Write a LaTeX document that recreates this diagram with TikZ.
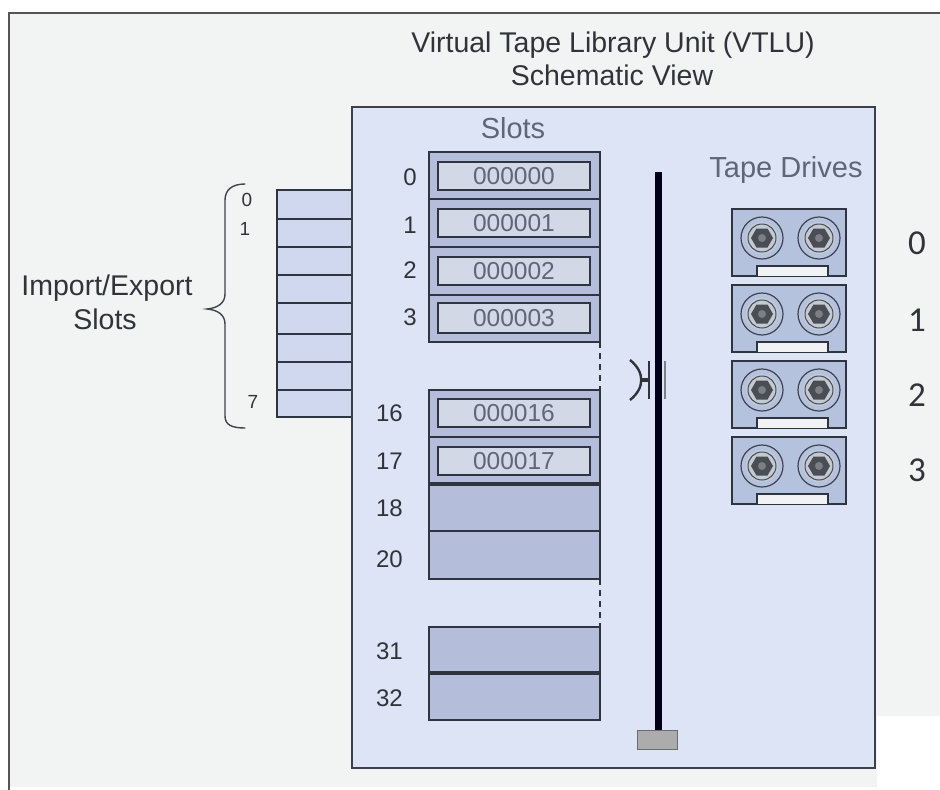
\documentclass[tikz,border=0pt]{standalone}
\usepackage{fontspec}
\setmainfont{Liberation Sans}
\newfontfamily\numfont{Carlito}
\definecolor{pagebg}{HTML}{F2F4F3}
\definecolor{panel}{HTML}{DDE4F6}
\definecolor{slotfill}{HTML}{B4BEDA}
\definecolor{tapefill}{HTML}{D3D8E6}
\definecolor{iofill}{HTML}{CFD8EE}
\definecolor{drivefill}{HTML}{B5C2DE}
\definecolor{edge}{HTML}{2E3440}
\definecolor{framec}{HTML}{555555}
\definecolor{softtext}{HTML}{5F6678}
\definecolor{darktext}{HTML}{30343A}
\definecolor{hubfill}{HTML}{C3CAD4}
\definecolor{hexfill}{HTML}{4A4E54}
\definecolor{hexcore}{HTML}{7A7E86}
\tikzset{
  px/.style={x=1pt,y=-1pt},
  box/.style={draw=edge,line width=1.4pt},
  slotbox/.style={box,fill=slotfill},
  iobox/.style={box,fill=iofill},
  drivebox/.style={box,fill=drivefill},
  tapebox/.style={box,fill=tapefill,line width=1.6pt},
  lbl/.style={text=darktext,font=\fontsize{24}{26}\selectfont,inner sep=0pt},
  tiny/.style={text=darktext,font=\fontsize{19}{21}\selectfont,inner sep=0pt},
  tapetxt/.style={text=softtext,font=\fontsize{24.5}{26}\selectfont,inner sep=0pt},
  head/.style={text=darktext,font=\fontsize{28.5}{31}\selectfont,inner sep=0pt,anchor=base},
  subhead/.style={text=softtext,font=\fontsize{29}{31}\selectfont,inner sep=0pt,anchor=base},
  drvnum/.style={text=darktext,font=\numfont\fontsize{35}{38}\selectfont,inner sep=0pt},
}
\begin{document}
\begin{tikzpicture}[px]
\useasboundingbox (0,0) rectangle (940,790);
% page background and outer frame
\fill[white] (0,0) rectangle (940,790);
\fill[pagebg] (9,13) -- (940,13) -- (940,716) -- (877,716) -- (877,787) -- (9,787) -- cycle;
\draw[framec,line width=2.4pt] (9,790) -- (9,13) -- (940,13);
% import/export slots
\foreach \t/\b [count=\i from 0] in {190/219,219/247,247/275,275/303,303/334,334/362,362/390,390/417}{
  \draw[iobox] (277,\t) rectangle (356,\b);
}
% main panel
\draw[fill=panel,draw=edge!85!gray,line width=1.8pt] (352,107) rectangle (875,768);
% slots
\foreach \t/\b in {152/199,199/247,247/295,295/342,390/437,437/484}{
  \draw[slotbox] (429,\t) rectangle (600,\b);
}
\foreach \t/\b/\s/\n/\ly in {162/190/000000/0/177,209/237/000001/1/225,257/285/000002/2/270,303/333/000003/3/317,399/427/000016/16/413,447/475/000017/17/461}{
  \draw[tapebox] (438,\t) rectangle (590,\b);
  \node[tapetxt] (tape\n) at (514,{(\t+\b)/2}) {\s};
}
\foreach \n/\ly in {0/177,1/225,2/270,3/317}{
  \node[lbl,anchor=east] (slot\n) at (417,\ly) {\n};
}
\foreach \n/\ly in {16/413,17/461,18/508,20/559,31/651,32/698}{
  \node[lbl,anchor=east] (slot\n) at (403,\ly) {\n};
}
\foreach \t/\b in {484/531,531/579,627/673,673/720}{
  \draw[slotbox] (429,\t) rectangle (600,\b);
}
\draw[edge,line width=3.4pt] (428,484) -- (601,484);
\draw[edge,line width=3.4pt] (428,673) -- (601,673);
\draw[edge,line width=1.4pt,dashed,dash pattern=on 6pt off 5pt] (600,342) -- (600,390);
\draw[edge,line width=1.4pt,dashed,dash pattern=on 6pt off 5pt] (600,579) -- (600,627);
% brace
\draw[edge!80!gray,line width=1.4pt,line cap=round]
  (245,184) .. controls (232,184) and (225,190) .. (225,200)
  -- (225,294) .. controls (225,303) and (218,308) .. (207,309)
  .. controls (218,310) and (225,315) .. (225,324)
  -- (225,416) .. controls (225,425) and (232,428) .. (245,428);
% rail, carriage and picker
\draw[black!90!blue,line width=7pt] (658,172) -- (658,731);
\draw[draw=gray!85!black,fill=gray!65,line width=1pt] (637,730) rectangle (677,749);
\draw[darktext,line width=2.4pt] (630,360) .. controls (645,372) and (645,388) .. (630,400);
\draw[darktext,line width=3.4pt] (641,380) -- (648,380);
\draw[darktext,line width=1.6pt] (649,361) -- (649,399);
\draw[gray,line width=1.4pt] (665,361) -- (665,399);
% tape drives
\foreach \y [count=\i from 0] in {209,285,361,437}{
  \draw[drivebox] (732,\y) rectangle (846,\y+67);
  \draw[box,fill=pagebg!90!panel,line width=1.2pt] (757,\y+67) -- (757,\y+57) -- (828,\y+57) -- (828,\y+67);
  \foreach \x in {762,819}{
    \draw[edge!80!gray,fill=none,line width=1.2pt] (\x,\y+29) circle (21);
    \fill[hubfill] (\x,\y+29) circle (16);
    \draw[edge!70!gray,line width=1pt] (\x,\y+29) circle (14);
    \fill[hexfill] (\x+11,\y+29) -- (\x+5.5,\y+19.5) -- (\x-5.5,\y+19.5) -- (\x-11,\y+29) -- (\x-5.5,\y+38.5) -- (\x+5.5,\y+38.5) -- cycle;
    \fill[hexcore] (\x,\y+29) circle (4);
  }
}
\foreach \i/\y in {0/243,1/320,2/395,3/470}{
  \node[drvnum] (drive\i) at (917,\y) {\i};
}
% text
\node[head] (title) at (613,52) {Virtual Tape Library Unit (VTLU)};
\node[head] (subtitle) at (612,85) {Schematic View};
\node[subhead] (slots) at (513,138) {Slots};
\node[subhead] (drives) at (786,177) {Tape Drives};
\node[head] (ioa) at (107,295) {Import/Export};
\node[head] (iob) at (105,329) {Slots};
\node[tiny] (io0) at (247,200) {0};
\node[tiny] (io1) at (245,229) {1};
\node[tiny] (io7) at (253,402) {7};
\end{tikzpicture}
\end{document}
